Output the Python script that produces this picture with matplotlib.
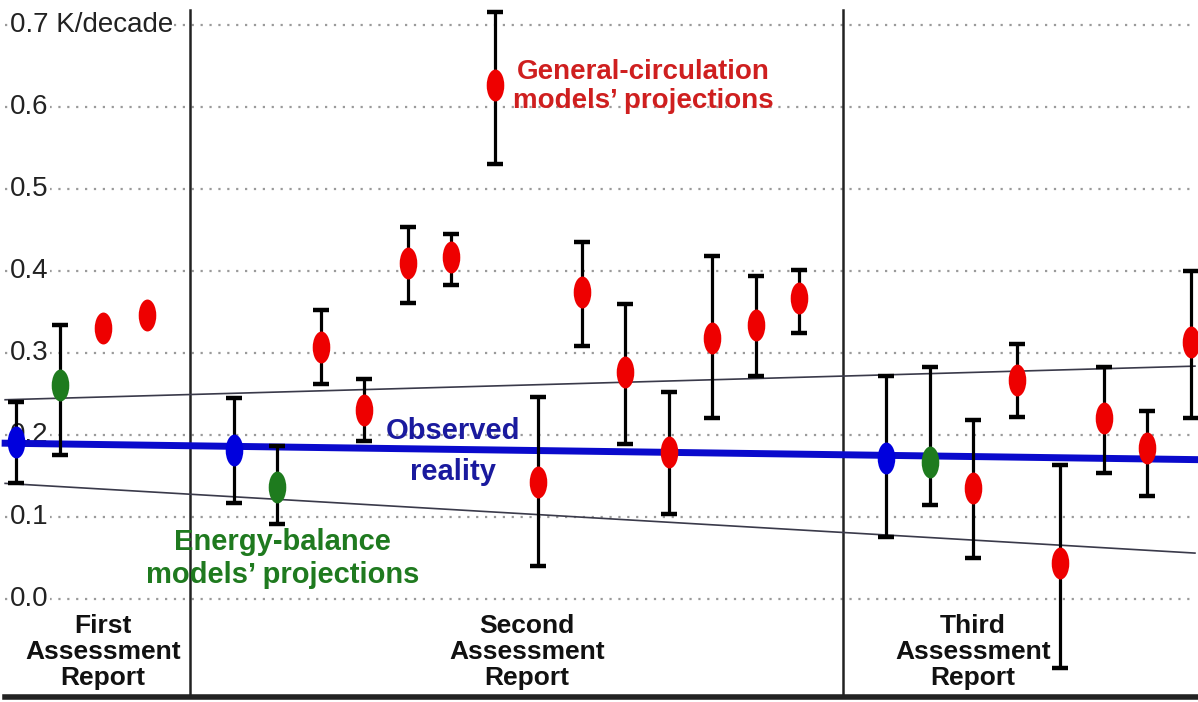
import numpy as np
import matplotlib
matplotlib.use("Agg")
import matplotlib.pyplot as plt
from matplotlib.path import Path
from matplotlib.transforms import Affine2D

plt.rcParams['font.family'] = ['Liberation Sans Narrow', 'Liberation Sans', 'DejaVu Sans']

# Data (K/decade)
slot = [0, 1, 2, 3, 5, 6, 7, 8, 9, 10, 11, 12, 13, 14, 15, 16, 17, 18,
        20, 21, 22, 23, 24, 25, 26, 27]
kind = ['obs', 'ebm', 'gcm', 'gcm', 'obs', 'ebm', 'gcm', 'gcm', 'gcm', 'gcm',
        'gcm', 'gcm', 'gcm', 'gcm', 'gcm', 'gcm', 'gcm', 'gcm',
        'obs', 'ebm', 'gcm', 'gcm', 'gcm', 'gcm', 'gcm', 'gcm']
central = [0.191, 0.261, 0.330, 0.346, 0.182, 0.137, 0.307, 0.230, 0.410, 0.417,
           0.627, 0.143, 0.374, 0.277, 0.179, 0.318, 0.334, 0.367,
           0.172, 0.167, 0.135, 0.267, 0.044, 0.221, 0.184, 0.313]
low = [0.141, 0.176, np.nan, np.nan, 0.117, 0.091, 0.262, 0.193, 0.361, 0.383,
       0.530, 0.040, 0.309, 0.189, 0.104, 0.221, 0.272, 0.324,
       0.076, 0.115, 0.050, 0.222, -0.084, 0.154, 0.126, 0.221]
high = [0.240, 0.334, np.nan, np.nan, 0.245, 0.187, 0.352, 0.268, 0.454, 0.445,
        0.716, 0.246, 0.435, 0.360, 0.252, 0.418, 0.394, 0.401,
        0.272, 0.283, 0.218, 0.311, 0.163, 0.283, 0.229, 0.400]

# observed trend and its envelope, start / end
obs_line = [0.190, 0.170]
upper_line = [0.243, 0.284]
lower_line = [0.141, 0.056]

report_names = ['First\nAssessment\nReport', 'Second\nAssessment\nReport',
                'Third\nAssessment\nReport']
report_pos = [2, 11.75, 22]
dividers = [4, 19]
yticks = [0.0, 0.1, 0.2, 0.3, 0.4, 0.5, 0.6, 0.7]

colors = {'obs': '#0000dd', 'ebm': '#1e7b1e', 'gcm': '#ee0000'}

fig = plt.figure(figsize=(11.98, 7.02), dpi=100)
ax = fig.add_axes([0, 0, 1, 1])
ax.set_xlim(-0.368, 27.17)
ax.set_ylim(-0.1256, 0.7305)
ax.axis('off')

x0, x1 = -0.25, 27.1

# dotted grid
for v in yticks:
    ax.plot([x0, x1], [v, v], color='#9a9a9a', lw=1.6, ls=(0, (1, 3)), zorder=1)
    lab = f"{v:.1f}" + (" K/decade" if v == 0.7 else "")
    ax.text(-0.13, v, lab, fontsize=20, ha='left', va='center', color='#222222',
            bbox=dict(facecolor='white', edgecolor='none', pad=0.5), zorder=2)

# section dividers and base line
for d in dividers:
    ax.plot([d, d], [-0.12, 0.718], color='#222222', lw=1.8, zorder=2)
ax.plot([x0, x1 + 0.1], [-0.1195, -0.1195], color='#222222', lw=4, zorder=2)

# envelope and observed trend
ax.plot([x0, x1], upper_line, color='#3a3a4a', lw=1.2, zorder=3)
ax.plot([x0, x1], lower_line, color='#3a3a4a', lw=1.2, zorder=3)
ax.plot([x0, x1], obs_line, color='#0a0acc', lw=5, zorder=3)

# error bars
c = np.array(central)
lo = np.array(low)
hi = np.array(high)
has_err = ~np.isnan(lo)
xs = np.array(slot)
ax.errorbar(xs[has_err], c[has_err],
            yerr=[c[has_err] - lo[has_err], hi[has_err] - c[has_err]],
            fmt='none', ecolor='black', elinewidth=2.3, capsize=6, capthick=3.2,
            zorder=4)

# elliptical markers
ell = Path.unit_circle().transformed(Affine2D().scale(0.55, 1.0))
for k in ['obs', 'ebm', 'gcm']:
    idx = [i for i, kk in enumerate(kind) if kk == k]
    ax.plot(xs[idx], c[idx], ls='none', marker=ell, markersize=23,
            color=colors[k], markeredgewidth=0, zorder=5)

# annotations
ax.text(14.42, 0.643, 'General-circulation', color='#cf1f1f', fontsize=20,
        fontweight='bold', ha='center', va='center', zorder=6)
ax.text(14.42, 0.607, "models\u2019 projections", color='#cf1f1f', fontsize=20,
        fontweight='bold', ha='center', va='center', zorder=6)
ax.text(10.05, 0.205, 'Observed', color='#1a1a9e', fontsize=21,
        fontweight='bold', ha='center', va='center', zorder=6)
ax.text(10.05, 0.155, 'reality', color='#1a1a9e', fontsize=21,
        fontweight='bold', ha='center', va='center', zorder=6)
ax.text(6.12, 0.069, 'Energy-balance', color='#1f7a1f', fontsize=21,
        fontweight='bold', ha='center', va='center', zorder=6)
ax.text(6.12, 0.029, "models\u2019 projections", color='#1f7a1f', fontsize=21,
        fontweight='bold', ha='center', va='center', zorder=6)

for name, p in zip(report_names, report_pos):
    ax.text(p, -0.0645, name, fontsize=19, fontweight='bold', ha='center',
            va='center', color='#111111', linespacing=1.1, zorder=6)

fig.savefig('out.png', dpi=100)
